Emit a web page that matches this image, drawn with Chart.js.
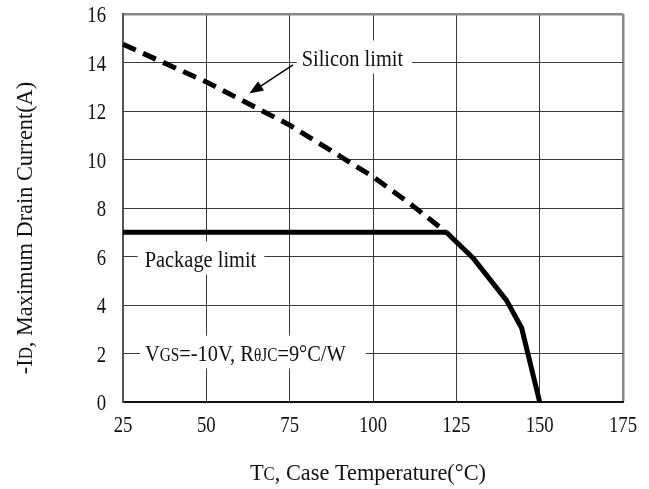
<!DOCTYPE html>
<html>
<head>
<meta charset="utf-8">
<script src="https://cdn.jsdelivr.net/npm/chart.js@4.4.0/dist/chart.umd.min.js"></script>
<style>
  body { margin: 0; background: #fff; }
</style>
</head>
<body>
<canvas id="derating" width="649" height="489"></canvas>
<script>
// readings
var siliconT = [25, 50, 75, 100, 111, 122];
var siliconI = [14.75, 13.2, 11.42, 9.29, 8.19, 7.0];
var packageT = [25, 122];
var packageI = [7, 7];
var thermalT = [122, 130, 140, 144.6, 150];
var thermalI = [7, 5.94, 4.2, 3.05, 0];

var xTicks = [25, 50, 75, 100, 125, 150, 175];
var yTicks = [0, 2, 4, 6, 8, 10, 12, 14, 16];

var FONT = '"Liberation Serif", "Times New Roman", serif';

function pts(xs, ys) {
    return xs.map(function (x, i) { return { x: x, y: ys[i] }; });
}

function measure(ctx, parts) {
    var total = 0;
    parts.forEach(function (p) {
        ctx.font = p[1] + 'px ' + FONT;
        total += ctx.measureText(p[0]).width;
    });
    return total;
}

// draws a run of text pieces [text, size] side by side, narrowed by sq
function richText(ctx, parts, x, y, align, sq) {
    ctx.save();
    ctx.translate(x, y);
    ctx.scale(sq, 1);
    ctx.textAlign = 'left';
    ctx.textBaseline = 'alphabetic';
    ctx.fillStyle = '#111';
    var total = measure(ctx, parts);
    var cx = 0;
    if (align === 'center') cx = -total / 2;
    if (align === 'right') cx = -total;
    parts.forEach(function (p) {
        ctx.font = p[1] + 'px ' + FONT;
        ctx.fillText(p[0], cx, 0);
        cx += ctx.measureText(p[0]).width;
    });
    ctx.restore();
}

function labelBox(ctx, parts, x, y, padL, padR) {
    var sq = 0.85;
    ctx.save();
    var w = measure(ctx, parts) * sq;
    ctx.fillStyle = '#fff';
    ctx.fillRect(x - padL, y - 25, w + padL + padR, 33);
    ctx.restore();
    richText(ctx, parts, x, y, 'left', sq);
}

const annotations = {
    id: 'annotations',
    beforeDatasetsDraw(chart) {
        const { ctx } = chart;
        const xs = chart.scales.x, ys = chart.scales.y;

        labelBox(ctx, [['Silicon limit', 24]], xs.getPixelForValue(78.6), ys.getPixelForValue(14) + 3, 5, 9);
        labelBox(ctx, [['Package limit', 24]], xs.getPixelForValue(31.5), ys.getPixelForValue(6) + 10, 7, 8);
        labelBox(ctx, [['V', 24], ['GS', 18], ['=-10V, R', 24], ['θ', 18], ['JC', 18], ['=9°C/W', 24]],
            xs.getPixelForValue(31.6), ys.getPixelForValue(2) + 7, 5, 20);

        // arrow pointing at the silicon curve
        var x0 = xs.getPixelForValue(76), y0 = ys.getPixelForValue(13.9);
        var x1 = xs.getPixelForValue(62.9), y1 = ys.getPixelForValue(12.72);
        var ang = Math.atan2(y1 - y0, x1 - x0);
        ctx.save();
        ctx.strokeStyle = '#000';
        ctx.fillStyle = '#000';
        ctx.lineWidth = 1.5;
        ctx.beginPath();
        ctx.moveTo(x0, y0);
        ctx.lineTo(x1 - 10 * Math.cos(ang), y1 - 10 * Math.sin(ang));
        ctx.stroke();
        ctx.beginPath();
        ctx.moveTo(x1, y1);
        ctx.lineTo(x1 - 14 * Math.cos(ang) + 5.5 * Math.sin(ang), y1 - 14 * Math.sin(ang) - 5.5 * Math.cos(ang));
        ctx.lineTo(x1 - 14 * Math.cos(ang) - 5.5 * Math.sin(ang), y1 - 14 * Math.sin(ang) + 5.5 * Math.cos(ang));
        ctx.closePath();
        ctx.fill();
        ctx.restore();
    },
    afterDraw(chart) {
        const { ctx } = chart;
        const xs = chart.scales.x, ys = chart.scales.y;
        const area = chart.chartArea;

        xTicks.forEach(function (v) {
            richText(ctx, [[String(v), 24]], xs.getPixelForValue(v), area.bottom + 30, 'center', 0.78);
        });
        yTicks.forEach(function (v) {
            richText(ctx, [[String(v), 24]], area.left - 17, ys.getPixelForValue(v) + 8, 'right', 0.78);
        });

        richText(ctx, [['T', 24], ['C', 18], [', Case Temperature(°C)', 24]], 368, 480, 'center', 0.93);

        ctx.save();
        ctx.translate(32, 228);
        ctx.rotate(-Math.PI / 2);
        richText(ctx, [['-I', 24], ['D', 18], [', Maximum Drain Current(A)', 24]], 0, 0, 'center', 0.93);
        ctx.restore();
    }
};

function gridColor(last) {
    return function (c) { return c.tick && c.tick.value === last ? '#888' : '#3a3a3a'; };
}
function gridWidth(last) {
    return function (c) { return c.tick && c.tick.value === last ? 2.5 : 1; };
}

new Chart(document.getElementById('derating'), {
    type: 'line',
    data: {
        datasets: [{
            label: 'Silicon limit',
            data: pts(siliconT, siliconI),
            borderColor: '#000',
            borderWidth: 5,
            borderDash: [14, 8],
            pointRadius: 0,
            tension: 0,
            clip: false
        }, {
            label: 'Package limit',
            data: pts(packageT, packageI),
            borderColor: '#000',
            borderWidth: 5,
            pointRadius: 0,
            tension: 0,
            clip: false
        }, {
            label: 'Derating',
            data: pts(thermalT, thermalI),
            borderColor: '#000',
            borderWidth: 5,
            pointRadius: 0,
            tension: 0,
            clip: false
        }]
    },
    options: {
        responsive: false,
        animation: false,
        layout: { padding: { left: 0, top: 14, right: 26, bottom: 0 } },
        plugins: {
            legend: { display: false },
            tooltip: { enabled: false }
        },
        scales: {
            x: {
                type: 'linear',
                min: 25,
                max: 175,
                ticks: { display: false, stepSize: 25 },
                grid: { color: gridColor(175), lineWidth: gridWidth(175), drawTicks: false },
                border: { display: true, color: '#111', width: 2 },
                afterFit: function (scale) { scale.height = 87; }
            },
            y: {
                min: 0,
                max: 16,
                ticks: { display: false, stepSize: 2 },
                grid: { color: gridColor(16), lineWidth: gridWidth(16), drawTicks: false },
                border: { display: true, color: '#555', width: 2 },
                afterFit: function (scale) { scale.width = 123; }
            }
        }
    },
    plugins: [annotations]
});
</script>
</body>
</html>
